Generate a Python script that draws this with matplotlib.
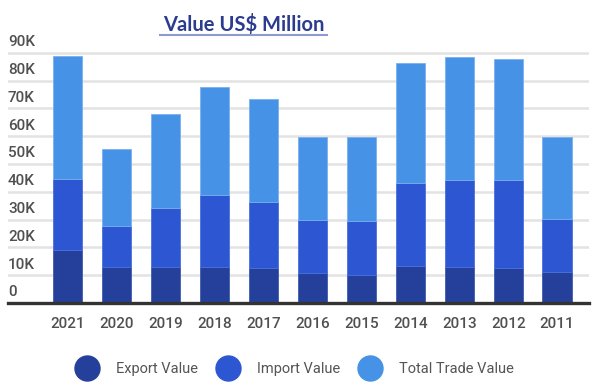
import matplotlib
matplotlib.use("Agg")
import matplotlib.pyplot as plt
import matplotlib.transforms as mtransforms
from matplotlib.lines import Line2D
import numpy as np

years = ["2021", "2020", "2019", "2018", "2017", "2016", "2015", "2014", "2013", "2012", "2011"]
export_vals = [19.1, 13.0, 13.0, 13.0, 12.5, 10.7, 10.1, 13.4, 13.0, 12.5, 11.2]
import_vals = [25.5, 14.6, 21.0, 25.8, 23.9, 19.1, 19.4, 29.6, 31.2, 31.7, 18.9]
total_vals = [44.3, 27.7, 33.8, 39.0, 36.8, 30.0, 30.3, 43.2, 44.1, 43.5, 29.7]
ytick_vals = [0, 10, 20, 30, 40, 50, 60, 70, 80, 90]
ytick_labels = ["0", "10K", "20K", "30K", "40K", "50K", "60K", "70K", "80K", "90K"]
series_names = ["Export Value", "Import Value", "Total Trade Value"]

c_exp = "#25409a"
c_imp = "#2d57d2"
c_tot = "#4592e6"

plt.rcParams['font.family'] = ['Roboto', 'DejaVu Sans']

W, H = 600, 388
fig = plt.figure(figsize=(W / 100, H / 100), dpi=100)
y0_px, per10 = 303.0, 27.81
ymax = 92
top_px = y0_px - ymax / 10 * per10
ax = fig.add_axes([8 / W, (H - y0_px) / H, (589 - 8) / W, (y0_px - top_px) / H])

x = np.arange(len(years))
exp = np.array(export_vals)
imp = np.array(import_vals)
tot = np.array(total_vals)
bw = 0.6
ax.bar(x, exp, width=bw, color=c_exp, edgecolor="#3f5bb0", linewidth=0.6, zorder=3)
ax.bar(x, imp, width=bw, bottom=exp, color=c_imp, edgecolor="#4a70dd", linewidth=0.6, zorder=3)
ax.bar(x, tot, width=bw, bottom=exp + imp, color=c_tot, edgecolor="#7ab0ef", linewidth=0.6, zorder=3)

ax.set_xlim(-1.215, 10.65)
ax.set_ylim(0, ymax)
for v in ytick_vals[1:]:
    ax.axhline(v, color="#e3e3e3", linewidth=1.8, zorder=1)
ax.axhline(0, color="#333333", linewidth=2.4, zorder=4, clip_on=False)

for s in ax.spines.values():
    s.set_visible(False)
ax.set_yticks([])
ax.set_xticks(x)
ax.set_xticklabels(years, fontsize=11, color="#505050", fontweight="medium")
ax.tick_params(axis="x", length=0, pad=10)

trans = mtransforms.blended_transform_factory(ax.transAxes, ax.transData)
trans = mtransforms.offset_copy(trans, fig=fig, x=0, y=3.5, units="dots")
for v, lab in zip(ytick_vals, ytick_labels):
    ax.text(0.0, v, lab, transform=trans, ha="left", va="bottom",
            fontsize=11, color="#505050", fontweight="medium")

fig.text(244 / W, 1 - 25 / H, "Value US$ Million", ha="center", va="center",
         fontsize=14.5, color="#2b3b8f", fontweight="bold", family=["Lato", "DejaVu Sans"])
fig.add_artist(Line2D([160 / W, 327 / W], [1 - 35 / H, 1 - 35 / H], color="#8c9bd2",
                      linewidth=1.5, transform=fig.transFigure))

handles = [Line2D([], [], marker="o", linestyle="none", markersize=18,
                  markerfacecolor=c, markeredgecolor=c) for c in (c_exp, c_imp, c_tot)]
fig.legend(handles, series_names, loc="center", bbox_to_anchor=(295 / W, 1 - 369 / H),
           ncol=3, frameon=False, fontsize=10.5, labelcolor="#555555",
           handletextpad=1.25, columnspacing=1.3, handlelength=1.5)

fig.savefig("out.png", dpi=100)
